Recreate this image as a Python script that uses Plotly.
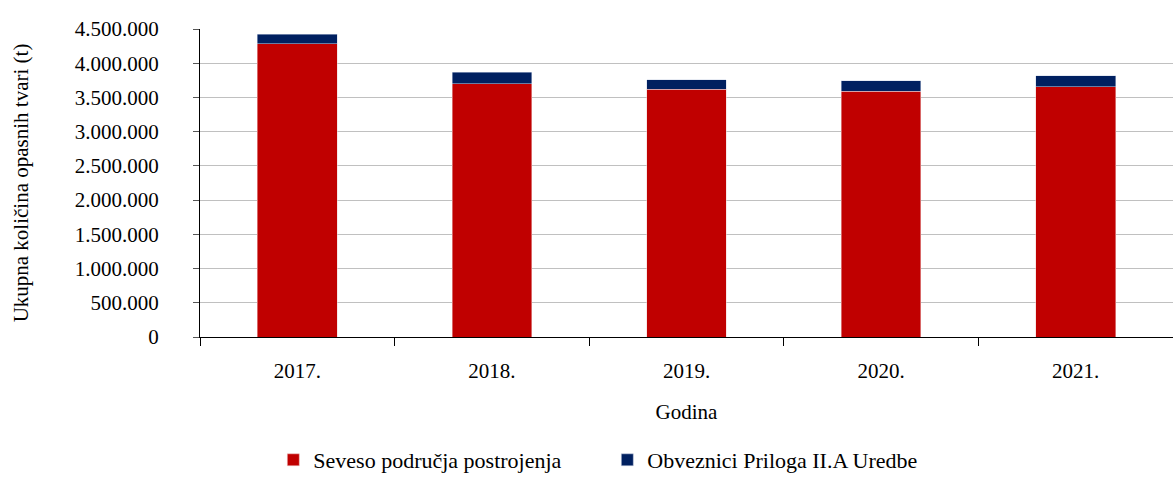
import plotly.graph_objects as go

years = ["2017.", "2018.", "2019.", "2020.", "2021."]
seveso = [4285000, 3697000, 3619000, 3590000, 3653000]
obveznici = [142000, 171000, 141000, 151000, 165000]

font_family = "Liberation Serif, Times New Roman, serif"

fig = go.Figure()
fig.add_trace(go.Bar(x=years, y=seveso, name="Seveso područja postrojenja",
                     marker=dict(color="#C00000", line=dict(color="#f0d0d0", width=0.5))))
fig.add_trace(go.Bar(x=years, y=obveznici, name="Obveznici Priloga II.A Uredbe",
                     marker=dict(color="#002060", line=dict(color="#d0d8e8", width=0.5))))

fig.update_layout(
    barmode="stack",
    bargap=0.59,
    width=1173, height=481,
    margin=dict(l=200, r=0, t=29, b=144),
    paper_bgcolor="white", plot_bgcolor="white",
    font=dict(family=font_family, size=21, color="black"),
    separators=",.",
    showlegend=True,
    legend=dict(orientation="h", xref="container", yref="container",
                x=0.233, xanchor="left", y=0.0, yanchor="bottom",
                font=dict(size=22), itemwidth=30, traceorder="normal",
                entrywidth=289, entrywidthmode="pixels"),
    xaxis=dict(
        showline=True, linecolor="black", linewidth=1,
        ticks="outside", tickson="boundaries", ticklen=8, tickcolor="black",
        ticklabelstandoff=15,
        title=dict(text="Godina", standoff=22, font=dict(size=21)),
        showgrid=False,
    ),
    yaxis=dict(
        range=[0, 4500000], dtick=500000, tickformat=",d",
        showline=True, linecolor="black", linewidth=1,
        ticks="outside", ticklen=6, tickcolor="#555",
        ticklabelstandoff=30,
        showgrid=True, gridcolor="#c0c0c0", gridwidth=1,
        title=dict(text="Ukupna količina opasnih tvari (t)", standoff=40, font=dict(size=21)),
        zeroline=False,
    ),
)

fig.write_html("out.html", config={"displayModeBar": False},
               post_script="document.body.style.margin='0';document.body.style.overflow='hidden';")
